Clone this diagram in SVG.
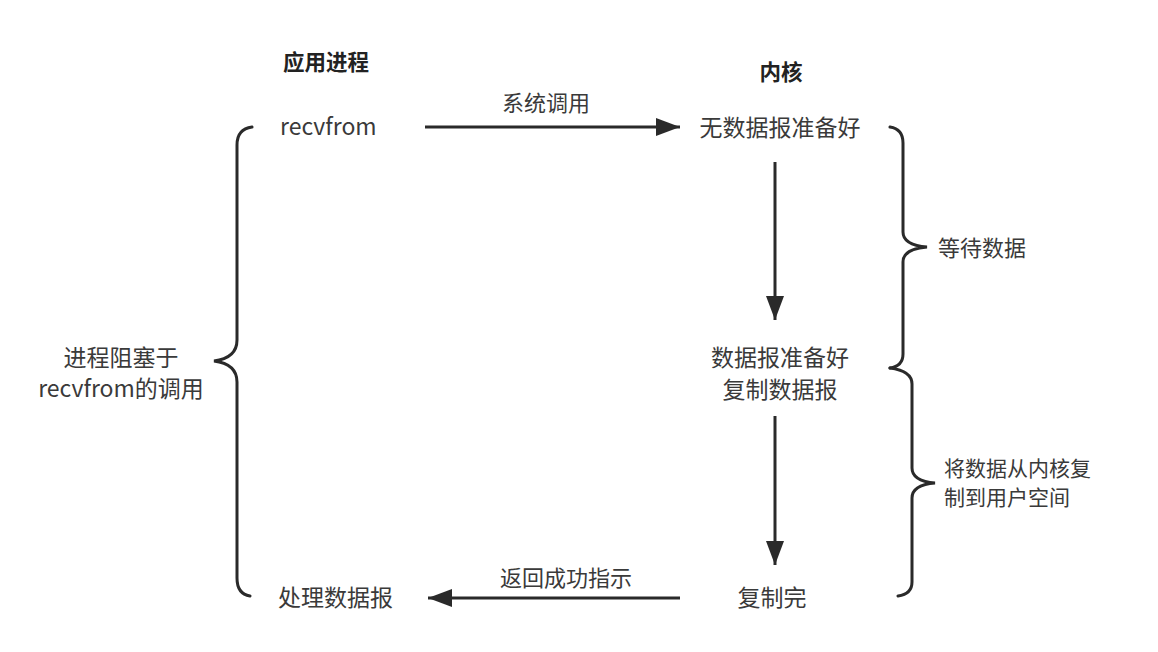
<svg xmlns="http://www.w3.org/2000/svg" width="1158" height="652" viewBox="0 0 1158 652">
<style>
text{font-family:"Noto Sans CJK SC","Noto Sans",sans-serif;fill:#3a3a3a;font-size:23px}
.t{font-weight:bold;fill:#222;font-size:21.5px}
.s{font-size:22px}
.s2{font-size:21px}
.c{text-anchor:middle}
.ln{stroke:#2a2a2a;stroke-width:3;fill:none}
.br{stroke:#2a2a2a;stroke-width:3;fill:none;stroke-linecap:round}
</style>
<defs>
<marker id="a" viewBox="0 0 24 18" refX="24" refY="9" markerWidth="24" markerHeight="18" orient="auto" markerUnits="userSpaceOnUse">
<path d="M0,0 L24,9 L0,18 z" fill="#2a2a2a"/>
</marker>
</defs>
<rect width="1158" height="652" fill="#fff"/>
<g id="title-app"><text class="t c" x="326" y="70">应用进程</text></g>
<g id="title-kernel"><text class="t c" x="781" y="80">内核</text></g>
<g id="recvfrom"><text x="280" y="135">recvfrom</text></g>
<g id="no-data"><text class="c" x="780" y="136">无数据报准备好</text></g>
<g id="data-ready"><text class="c" x="780" y="366">数据报准备好</text><text class="c" x="780" y="398">复制数据报</text></g>
<g id="copy-done"><text class="c" x="772" y="606">复制完</text></g>
<g id="process"><text x="278" y="606">处理数据报</text></g>
<g id="wait-label"><text class="s" x="938" y="256">等待数据</text></g>
<g id="copy-label"><text class="s2" x="944" y="476">将数据从内核复</text><text class="s2" x="944" y="505">制到用户空间</text></g>
<g id="block-label"><text class="c" x="121" y="366">进程阻塞于</text><text class="c" x="121" y="397">recvfrom的调用</text></g>
<g id="connectors">
<line class="ln" x1="425" y1="127" x2="680" y2="127" marker-end="url(#a)"/>
<text class="s c" x="546" y="111">系统调用</text>
<line class="ln" x1="775" y1="162" x2="775" y2="320" marker-end="url(#a)"/>
<line class="ln" x1="775" y1="416" x2="775" y2="565" marker-end="url(#a)"/>
<line class="ln" x1="680" y1="598" x2="428" y2="598" marker-end="url(#a)"/>
<text class="s c" x="566" y="586">返回成功指示</text>
<path class="br" d="M252,127 Q237,129 237,145 L237,340 Q237,358 214,361 Q237,364 237,382 L237,578 Q237,594 250,596"/>
<path class="br" d="M890,127 Q903,129 903,143 L903,232 Q903,245 927,247 Q903,249 903,262 L903,354 Q903,366 890,368"/>
<path class="br" d="M890,368 Q912,371 912,384 L912,468 Q912,481 935,483 Q912,485 912,498 L912,582 Q912,594 898,596"/>
</g>
</svg>
